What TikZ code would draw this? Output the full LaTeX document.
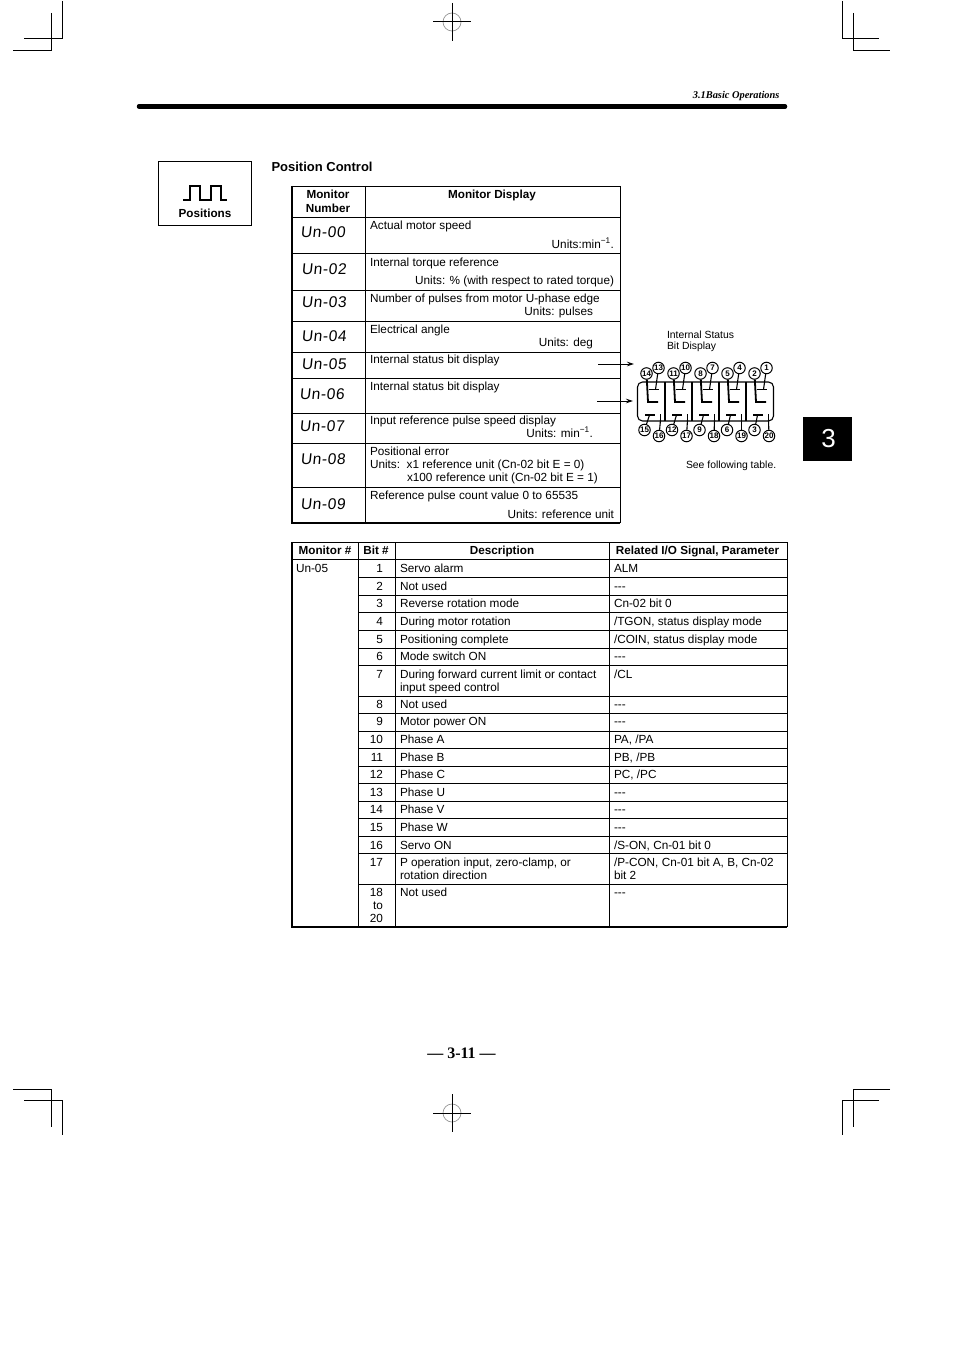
\documentclass[tikz,border=0pt]{standalone}
\usepackage{fontspec}
\setmainfont{Liberation Sans}
\newfontfamily\serifbold{Liberation Serif}
\newfontfamily\unfont[FakeSlant=0.1,LetterSpace=4]{Liberation Sans}
\usepackage{tikz}
\usetikzlibrary{arrows,arrows.meta,shapes,positioning,calc}
\definecolor{ink}{RGB}{0,0,0}
\definecolor{regmark}{RGB}{150,150,150}
\newcommand{\nosig}{-{}-{}-}
\newcommand{\px}[1]{\fontsize{#1}{#1}\selectfont}
\tikzset{
  cell/.style={anchor=base west, inner sep=0pt, outer sep=0pt},
  cellr/.style={anchor=base east, inner sep=0pt, outer sep=0pt},
  head/.style={anchor=base, inner sep=0pt, font=\px{11.7}\bfseries},
  unlabel/.style={inner sep=0pt, font=\px{15.5}\unfont},
  rowline/.style={line width=0.9pt},
  frameline/.style={line width=1.8pt},
  cropline/.style={line width=1pt},
  pinnum/.style={circle, draw, line width=1pt, fill=white, inner sep=0pt, minimum size=11.5pt, font=\px{8}\bfseries},
  segline/.style={line width=1.8pt},
  pinline/.style={line width=1.1pt}
}
\begin{document}
\begin{tikzpicture}[x=1pt, y=-1pt, font=\px{11.78}]
        \useasboundingbox[fill=white] (0,0) rectangle (954,1351);
        % crop marks
        \draw[cropline] (62,1) -- (62,39) -- (24,39) (51,13) -- (51,51) -- (13,51);
        \draw[cropline] (842,1) -- (842,39) -- (879,39) (853,13) -- (853,51) -- (890,51);
        \draw[cropline] (13,1089) -- (51,1089) -- (51,1127) (24,1100) -- (62,1100) -- (62,1135);
        \draw[cropline] (890,1089) -- (853,1089) -- (853,1127) (879,1100) -- (842,1100) -- (842,1135);
        \foreach \ycross in {22,1113} {
          \draw[regmark, line width=0.7pt] (452,\ycross) circle (9);
          \draw[cropline] (433,\ycross) -- (471,\ycross) (452,\ycross-19) -- (452,\ycross+19);
        }
        % page head
        \draw[line width=4.5pt, line cap=round] (139,106.5) -- (785,106.5);
        \node[cellr, font=\px{10.4}\serifbold\bfseries\itshape] (pagehead) at (779.5,98.5) {3.1Basic Operations};
        \node[fill=ink, minimum width=49pt, minimum height=44pt, inner sep=0pt, text=white, font=\px{26}] (chapter) at (827.5,439) {\hspace*{2pt}3};
        \node[anchor=base, inner sep=0pt, font=\px{16}\serifbold\bfseries] (pagenum) at (461.5,1058.5) {— 3-11 —};

        % positions box
        \draw[line width=1pt] (158,161.5) rectangle (251,225);
        \draw[line width=1.2pt] (183,200) -- (190,200) -- (190,186) -- (200,186) -- (200,200) -- (211,200) -- (211,186) -- (221,186) -- (221,200) -- (227,200);
        \node[anchor=base, inner sep=0pt, font=\px{11.7}\bfseries] (positions) at (205,217) {Positions};
        \node[cell, font=\px{13}\bfseries] (title) at (271.5,172) {Position Control};

        % monitor table
        \foreach \yrow in {217,253,290,321,352,378,413,443,487} {
          \draw[rowline] (292,\yrow) -- (620,\yrow);
        }
        \draw[rowline] (365,186) -- (365,523);
        \draw[rowline] (620,186) -- (620,523);
        \draw[rowline] (292,186) -- (620,186);
        \draw[frameline] (292,186) -- (292,523) -- (620,523);
        \node[head] (hmon) at (328,198) {Monitor};
        \node[head] (hnum) at (328,212) {Number};
        \node[head] (hdisp) at (492,198) {Monitor Display};
        \foreach \unno/\xun/\yun in {00/323/232, 02/324/269, 03/324/302, 04/324/336, 05/324/364, 06/322/394, 07/322/426, 08/323/459, 09/323/504} {
          \node[unlabel] (un\unno) at (\xun,\yun) {Un-\unno};
        }
        \foreach \nm/\ybase/\txt in {a/229.5/Actual motor speed, b/266/Internal torque reference, c/302/Number of pulses from motor U-phase edge, d/333/Electrical angle, e/363/Internal status bit display, f/390/Internal status bit display, g/424.5/Input reference pulse speed display, h/455/Positional error, j/499/Reference pulse count value 0 to 65535} {
          \node[cell] (mon\nm) at (370,\ybase) {\txt};
        }
        \node[cell] (unitsh) at (370,468) {Units:\ \ x1 reference unit (Cn-02 bit E = 0)};
        \node[cell] (unitsi) at (407,481) {x100 reference unit (Cn-02 bit E = 1)};
        \node[cellr] (unitsa) at (614,248) {Units:min\textsuperscript{−1}.};
        \node[cellr] (unitsb) at (614,284.5) {Units: \% (with respect to rated torque)};
        \node[cellr] (unitsc) at (593,315) {Units: pulses};
        \node[cellr] (unitsd) at (593,346) {Units: deg};
        \node[cellr] (unitsg) at (593,437) {Units: min\textsuperscript{−1}.};
        \node[cellr] (unitsj) at (614,518) {Units: reference unit};

        % arrows to the status display
        \coordinate (arrowas) at (598,364);
        \coordinate (arrowae) at (634,364);
        \coordinate (arrowbs) at (597,401);
        \coordinate (arrowbe) at (633,401);
        \draw[line width=0.8pt, -{Stealth[length=7pt,width=4.5pt]}] (arrowas) -- (arrowae);
        \draw[line width=0.8pt, -{Stealth[length=7pt,width=4.5pt]}] (arrowbs) -- (arrowbe);

        % status bit display
        \node[cell, font=\px{10.4}] (stata) at (667,338.5) {Internal Status};
        \node[cell, font=\px{10.4}] (statb) at (667,349.5) {Bit Display};
        \node[cell, font=\px{10.4}] (seetab) at (686,468) {See following table.};
        \draw[line width=1.1pt, rounded corners=5pt] (637.5,382) rectangle (773.5,421);
        \foreach \xdiv in {665,692,719,746} {
          \draw[pinline] (\xdiv,382) -- (\xdiv,421);
        }
        \foreach \i/\ul/\ur/\ll/\lr in {0/14/13/15/16, 1/11/10/12/17, 2/8/7/9/18, 3/5/4/6/19, 4/2/1/3/20} {
          \node[pinnum] (c\ul) at ({646.5+27*\i},373.5) {\ul};
          \node[pinnum] (c\ur) at ({658.5+27*\i},368) {\ur};
          \node[pinnum] (c\ll) at ({644.5+27.5*\i},430) {\ll};
          \node[pinnum] (c\lr) at ({659+27.5*\i},436) {\lr};
          \draw[segline] (c\ul) -- ({648+27*\i},402) -- ({658+27*\i},402);
          \draw[segline] ({648.5+27*\i},389.5) -- ({658.5+27*\i},389.5);
          \draw[pinline] (c\ur) -- ({655.5+27*\i},389.5);
          \draw[segline] ({645+27*\i},415) -- ({655+27*\i},415);
          \draw[pinline] (c\ll) -- ({649.5+27*\i},415);
          \draw[segline] ({660.5+27*\i},414) -- ({660.5+27*\i},420);
          \draw[pinline] (c\lr) -- ({660.5+27*\i},420);
        }

        % bit table
        \foreach \yrow in {577,595,612,630,648,665,696,713,731,748,766,783,801,818,836,853,884} {
          \draw[rowline] (358,\yrow) -- (787,\yrow);
        }
        \draw[rowline] (292,559) -- (787,559);
        \foreach \xcol in {358,395,609,787} {
          \draw[rowline] (\xcol,542) -- (\xcol,927);
        }
        \draw[rowline] (292,542) -- (787,542);
        \draw[frameline] (292,542) -- (292,927) -- (787,927);
        \node[head] (hmonb) at (325,554) {Monitor \#};
        \node[head] (hbit) at (376,554) {Bit \#};
        \node[head] (hdesc) at (502,554) {Description};
        \node[head] (hsig) at (697.5,554) {Related I/O Signal, Parameter};
        \node[cell] (unfive) at (296,572) {Un-05};
        \foreach \bitno/\ybase/\descr/\signal in {
          1/572/{Servo alarm}/{ALM},
          2/590/{Not used}/{\nosig},
          3/607/{Reverse rotation mode}/{Cn-02 bit 0},
          4/625/{During motor rotation}/{/TGON, status display mode},
          5/643/{Positioning complete}/{/COIN, status display mode},
          6/660/{Mode switch ON}/{\nosig},
          7/678/{During forward current limit or contact}/{/CL},
          8/708/{Not used}/{\nosig},
          9/725/{Motor power ON}/{\nosig},
          10/743/{Phase A}/{PA, /PA},
          11/761/{Phase B}/{PB, /PB},
          12/778/{Phase C}/{PC, /PC},
          13/796/{Phase U}/{\nosig},
          14/813/{Phase V}/{\nosig},
          15/831/{Phase W}/{\nosig},
          16/849/{Servo ON}/{/S-ON, Cn-01 bit 0},
          17/866/{P operation input, zero-clamp, or}/{/P-CON, Cn-01 bit A, B, Cn-02},
          18/896/{Not used}/{\nosig}} {
          \node[cellr] (bit\bitno) at (383,\ybase) {\bitno};
          \node[cell] (desc\bitno) at (400,\ybase) {\descr};
          \node[cell] (sig\bitno) at (614,\ybase) {\signal};
        }
        \node[cell] (descg) at (400,691) {input speed control};
        \node[cell] (descq) at (400,879) {rotation direction};
        \node[cell] (sigq) at (614,879) {bit 2};
        \node[cellr] (bitto) at (383,909) {to};
        \node[cellr] (bitlast) at (383,922) {20};
      \end{tikzpicture}
\end{document}
